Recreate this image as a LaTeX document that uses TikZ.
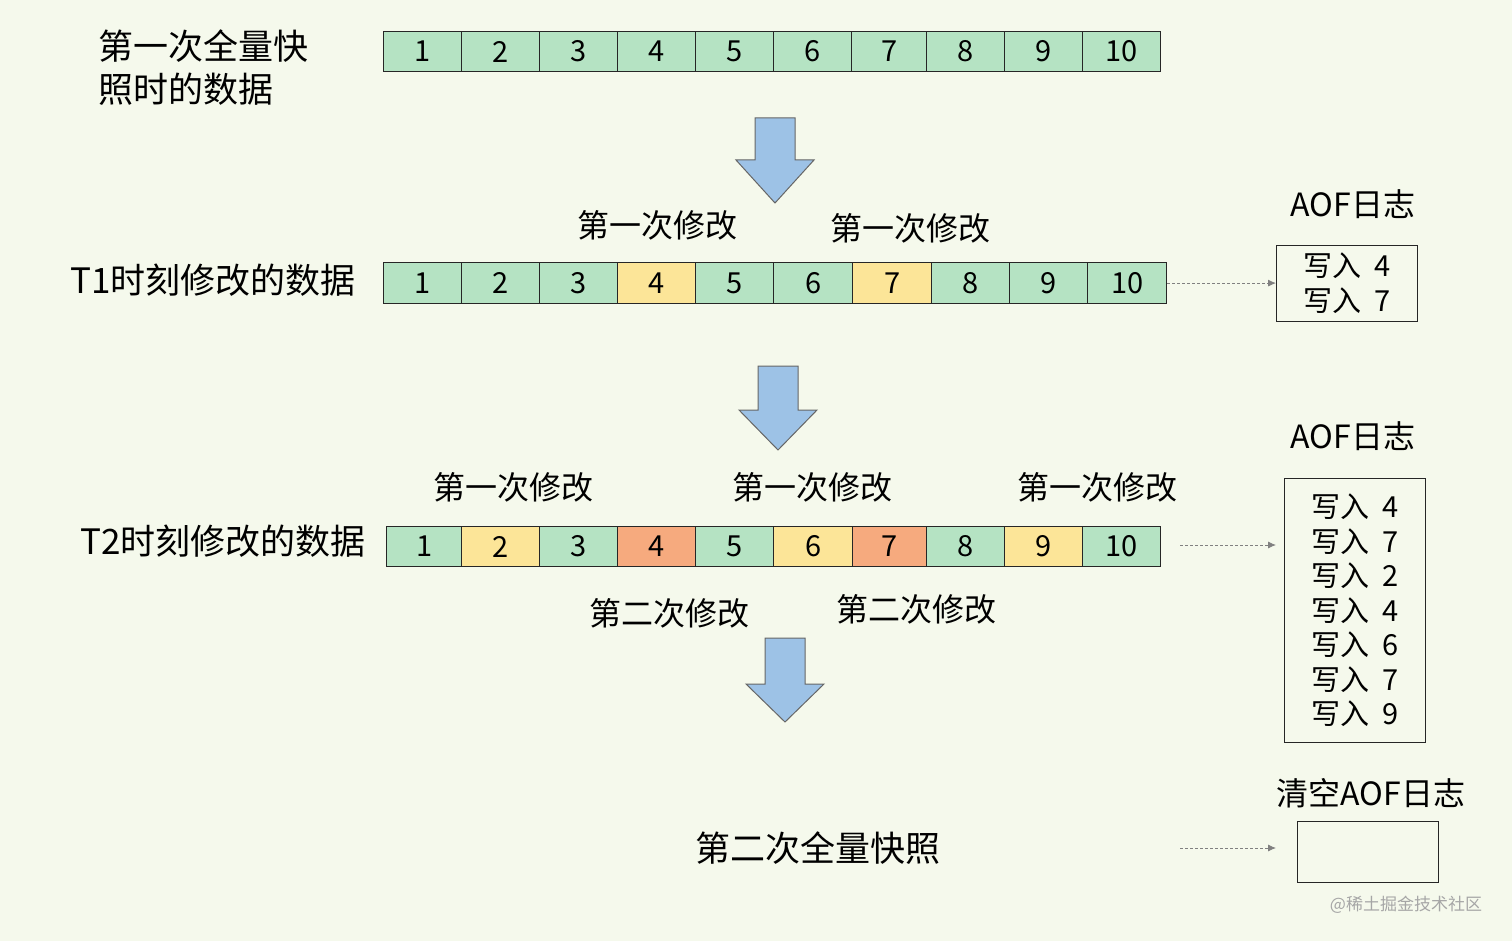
\documentclass[tikz,border=0pt]{standalone}
\usepackage{fontspec}
\setmainfont{Noto Sans CJK SC}
\definecolor{bg}{HTML}{F5F9EC}
\definecolor{cg}{HTML}{B5E3C3}
\definecolor{cy}{HTML}{FCE598}
\definecolor{co}{HTML}{F6AA7E}
\definecolor{ab}{HTML}{9DC2E6}
\usetikzlibrary{arrows.meta}
\begin{document}
\begin{tikzpicture}[x=1pt,y=-1pt,
 cell/.style={draw=black!85,line width=1.2pt,inner sep=0pt,font=\fontsize{29}{30}\selectfont},
 lbl/.style={font=\fontsize{32}{38}\selectfont,inner sep=0pt},
 big/.style={font=\fontsize{35}{43}\selectfont,inner sep=0pt},
 conn/.style={densely dashed,gray,line width=0.8pt,-{Latex[length=8pt,width=7pt]}},
 logbox/.style={draw=black!85,line width=1.2pt,inner sep=0pt},
 logtxt/.style={font=\fontsize{29}{35}\selectfont,inner sep=0pt,align=left},
 barrow/.style={fill=ab,draw=black!60,line width=1pt,line join=miter}]
\fill[bg] (0,0) rectangle (1512,941);
\useasboundingbox (0,0) rectangle (1512,941);
% row 1
\foreach \a/\b/\n/\c in {383/461/1/cg,461/539/2/cg,539/617/3/cg,617/695/4/cg,695/773/5/cg,773/851/6/cg,851/926/7/cg,926/1004/8/cg,1004/1082/9/cg,1082/1160/10/cg}
 \node[cell,fill=\c,minimum width={\b-\a},minimum height=40,anchor=north west] (r1c\n) at (\a,31) {\n};
% row 2
\foreach \a/\b/\n/\c in {383/461/1/cg,461/539/2/cg,539/617/3/cg,617/695/4/cy,695/773/5/cg,773/852/6/cg,852/931/7/cy,931/1009/8/cg,1009/1087/9/cg,1087/1166/10/cg}
 \node[cell,fill=\c,minimum width={\b-\a},minimum height=41,anchor=north west] (r2c\n) at (\a,262) {\n};
% row 3
\foreach \a/\b/\n/\c in {386/461/1/cg,461/539/2/cy,539/617/3/cg,617/695/4/co,695/773/5/cg,773/852/6/cy,852/926/7/co,926/1004/8/cg,1004/1082/9/cy,1082/1160/10/cg}
 \node[cell,fill=\c,minimum width={\b-\a},minimum height=40,anchor=north west] (r3c\n) at (\a,526) {\n};
% labels
\node[big,anchor=west,align=left] (t0) at (98,68) {第一次全量快\\照时的数据};
\node[big] (t1) at (213,280) {T1时刻修改的数据};
\node[big] (t2) at (223,541) {T2时刻修改的数据};
\node[lbl] (m1) at (657,225) {第一次修改};
\node[lbl] (m2) at (910,228) {第一次修改};
\node[lbl] (m3) at (513,487) {第一次修改};
\node[lbl] (m4) at (812,487) {第一次修改};
\node[lbl] (m5) at (1097,487) {第一次修改};
\node[lbl] (s1) at (669,613) {第二次修改};
\node[lbl] (s2) at (916,609) {第二次修改};
\node[big] (snap) at (818,848) {第二次全量快照};
\node[lbl] (a1) at (1353,204) {AOF日志};
\node[lbl] (a2) at (1353,436) {AOF日志};
\node[lbl] (a3) at (1371,793) {清空AOF日志};
% log boxes
\node[logbox,minimum width=141,minimum height=76,anchor=north west] (b1) at (1276,245) {};
\node[logtxt] at (b1.center) {写入\ \ 4\\写入\ \ 7};
\node[logbox,minimum width=141,minimum height=264,anchor=north west] (b2) at (1284,478) {};
\node[logtxt,font=\fontsize{29}{34.5}\selectfont] at (b2.center) {写入\ \ 4\\写入\ \ 7\\写入\ \ 2\\写入\ \ 4\\写入\ \ 6\\写入\ \ 7\\写入\ \ 9};
\node[logbox,minimum width=141,minimum height=61,anchor=north west] (b3) at (1297,821) {};
% connectors
\coordinate (c2) at (1180,545);
\coordinate (c3) at (1180,848);
\draw[conn] (r2c10.east) -- (b1.west |- r2c10.east);
\draw[conn,shorten >=8pt] (c2) -- (c2 -| b2.west);
\draw[conn,shorten >=21pt] (c3) -- (c3 -| b3.west);
% block arrows
\foreach \x/\t/\h/\tip in {775/118/160/203, 778/366/410/450, 785/638/684/722}
 \draw[barrow] (\x-20,\t) -- (\x+20,\t) -- (\x+20,\h) -- (\x+39,\h) -- (\x,\tip) -- (\x-39,\h) -- (\x-20,\h) -- cycle;
\node[font=\fontsize{17}{20}\selectfont,text=gray!70,inner sep=0pt] (wm) at (1406,905) {@稀土掘金技术社区};
\end{tikzpicture}
\end{document}
